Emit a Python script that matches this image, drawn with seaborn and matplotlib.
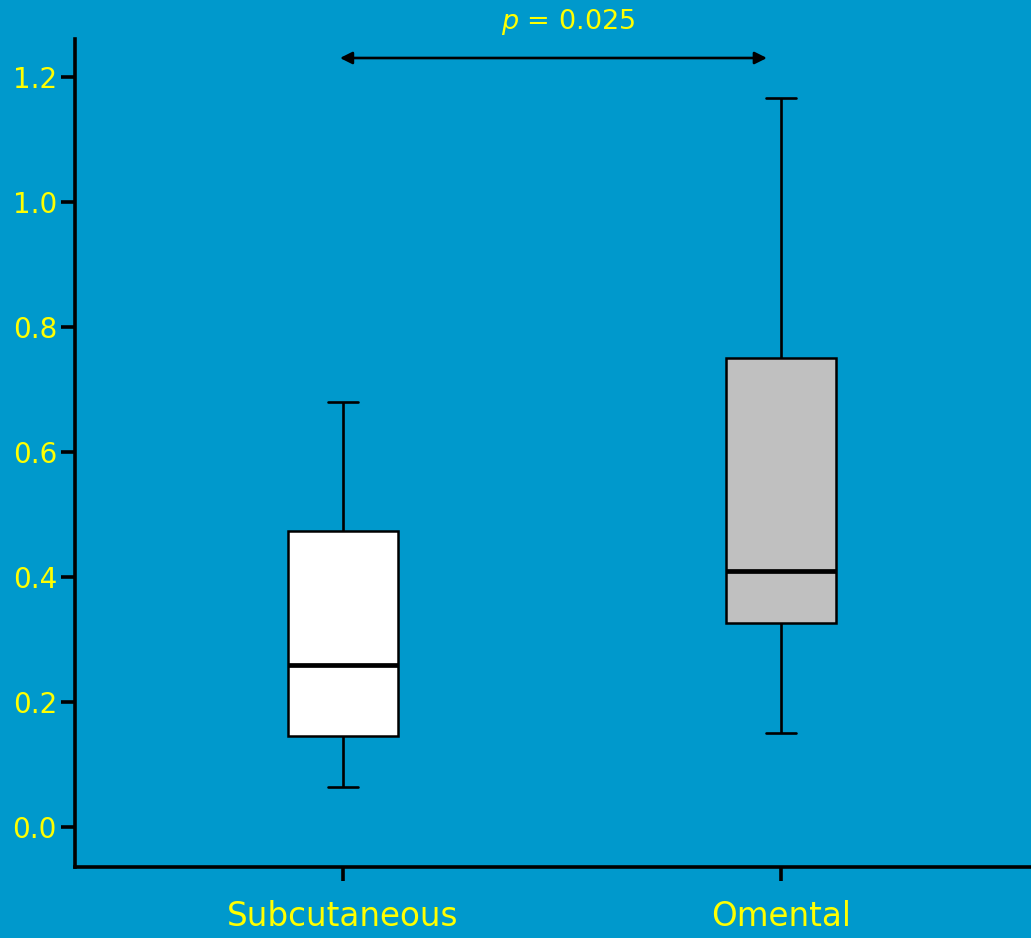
import matplotlib
matplotlib.use("Agg")
import matplotlib.pyplot as plt
import seaborn as sns
import pandas as pd

# Five-number summaries per depot: min, Q1, median, Q3, max
depots = ["Subcutaneous", "Omental"]
subcutaneous = [0.064, 0.145, 0.26, 0.474, 0.68]
omental = [0.15, 0.326, 0.41, 0.75, 1.166]
box_colors = ["#FFFFFF", "#C0C0C0"]
y_ticks = [0.0, 0.2, 0.4, 0.6, 0.8, 1.0, 1.2]
p_label = "$p$ = 0.025"

BG = "#0099CC"
YELLOW = "#FFFF00"

sns.set_theme(style="ticks")
plt.rcParams["font.family"] = ["DejaVu Sans"]
plt.rcParams["mathtext.fontset"] = "dejavusans"

df = pd.DataFrame({
    "depot": [depots[0]] * len(subcutaneous) + [depots[1]] * len(omental),
    "value": subcutaneous + omental,
})

fig = plt.figure(figsize=(10.31, 9.38), dpi=100, facecolor=BG)
ax = fig.add_axes([75 / 1031, 1 - 867 / 938, (1031 - 75) / 1031, (867 - 39) / 938])
ax.set_facecolor(BG)

sns.boxplot(
    data=df, x="depot", y="value", hue="depot", palette=box_colors,
    order=depots, hue_order=depots, legend=False,
    whis=(0, 100), width=0.253, ax=ax,
    boxprops=dict(edgecolor="black", linewidth=1.8),
    whiskerprops=dict(color="black", linewidth=1.9),
    capprops=dict(color="black", linewidth=1.9),
    medianprops=dict(color="black", linewidth=3.4),
    capwidths=0.068,
    showfliers=False,
)

ax.set_xlim(-0.612, 1.571)
ax.set_ylim(-0.064, 1.2608)
ax.set_yticks(y_ticks)
ax.set_yticklabels([f"{t:.1f}" for t in y_ticks])
ax.set_xlabel("")
ax.set_ylabel("")

for side in ("top", "right"):
    ax.spines[side].set_visible(False)
for side in ("left", "bottom"):
    ax.spines[side].set_linewidth(2.6)
    ax.spines[side].set_color("black")

ax.tick_params(axis="y", colors="black", labelcolor=YELLOW, labelsize=20,
               length=10, width=2.6, direction="out", pad=3)
ax.tick_params(axis="x", colors="black", labelcolor=YELLOW, labelsize=23.5,
               length=10, width=2.6, direction="out", pad=14)

# Significance bracket between the two depots
ax.annotate("", xy=(0.968, 1.2304), xytext=(-0.007, 1.2304),
            xycoords="data", textcoords="data", annotation_clip=False,
            arrowprops=dict(arrowstyle="<|-|>", color="black", lw=1.9,
                            mutation_scale=18, shrinkA=0, shrinkB=0))
ax.text(0.514, 1.288, p_label, ha="center", va="center", color=YELLOW,
        fontsize=19.5, clip_on=False)

fig.savefig("out.png", dpi=100, facecolor=BG)
